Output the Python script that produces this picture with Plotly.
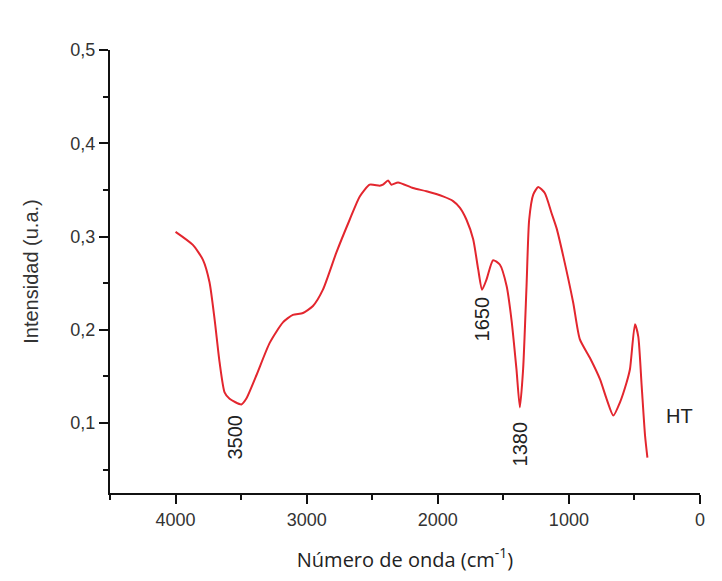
import plotly.graph_objects as go

# Wavenumber (cm^-1) and intensity (u.a.)
wavenumber = [4000, 3868, 3791, 3741, 3702, 3664, 3626, 3588, 3498, 3461, 3384, 3282,
              3181, 3105, 3028, 2952, 2876, 2773, 2672, 2595, 2519, 2443, 2418, 2379,
              2354, 2303, 2189, 2086, 1960, 1883, 1832, 1781, 1730, 1692, 1662, 1628,
              1578, 1527, 1475, 1438, 1400, 1374, 1349, 1323, 1303, 1272, 1234, 1184,
              1132, 1094, 1043, 967, 917, 840, 763, 712, 661, 611, 560, 534, 496, 471,
              445, 419, 401]
intensity = [0.305, 0.291, 0.275, 0.251, 0.211, 0.165, 0.133, 0.126, 0.120, 0.126, 0.151,
             0.186, 0.208, 0.216, 0.218, 0.2255, 0.243, 0.283, 0.318, 0.343, 0.3556,
             0.3545, 0.3556, 0.360, 0.3556, 0.358, 0.352, 0.3485, 0.343, 0.338, 0.331,
             0.318, 0.297, 0.265, 0.243, 0.254, 0.2746, 0.270, 0.247, 0.211, 0.158,
             0.1168, 0.158, 0.247, 0.318, 0.345, 0.353, 0.3467, 0.325, 0.309, 0.279,
             0.229, 0.190, 0.170, 0.147, 0.1257, 0.108, 0.122, 0.1435, 0.158, 0.206,
             0.193, 0.140, 0.0864, 0.063]

peak_labels = ["3500", "1650", "1380"]
peak_x = [3550, 1664, 1374]
peak_y = [0.085, 0.212, 0.078]
sample_label = "HT"
sample_x = 153
sample_y = 0.1075

x_tickvals = [4000, 3000, 2000, 1000, 0]
y_tickvals = [0.1, 0.2, 0.3, 0.4, 0.5]

fig = go.Figure()
fig.add_trace(go.Scatter(
    x=wavenumber, y=intensity, mode="lines",
    line=dict(color="#e3262e", width=2, shape="spline", smoothing=0.6),
    showlegend=False, hoverinfo="skip"))

for lab, px, py in zip(peak_labels, peak_x, peak_y):
    fig.add_annotation(x=px, y=py, text=lab, showarrow=False, textangle=-90,
                       font=dict(family="Liberation Sans, Arial", size=20, color="#222"),
                       xanchor="center", yanchor="middle")
fig.add_annotation(x=sample_x, y=sample_y, text=sample_label, showarrow=False,
                   font=dict(family="Liberation Sans, Arial", size=20, color="#222"),
                   xanchor="center", yanchor="middle")

axis_common = dict(showline=True, linecolor="#111", linewidth=2, ticks="outside",
                   ticklen=9, tickwidth=2, tickcolor="#111", showgrid=False,
                   zeroline=False, mirror=False,
                   tickfont=dict(family="Liberation Sans, Arial", size=18, color="#333"))

fig.update_layout(
    width=722, height=581,
    margin=dict(l=110, r=22, t=50, b=88),
    paper_bgcolor="white", plot_bgcolor="white",
    separators=",.",
    xaxis=dict(range=[4500, 0], tickvals=x_tickvals, ticktext=[str(v) for v in x_tickvals],
               minor=dict(dtick=500, tick0=0, ticks="outside", ticklen=5, tickwidth=2,
                          tickcolor="#111"),
               title=dict(text="Número de onda (cm<sup>-1</sup>)", standoff=24,
                          font=dict(family="Open Sans", size=20, color="#222")),
               automargin=False,
               **axis_common),
    yaxis=dict(range=[0.025, 0.5], tickvals=y_tickvals, tickformat=".1f",
               minor=dict(dtick=0.05, tick0=0, ticks="outside", ticklen=5, tickwidth=2,
                          tickcolor="#111"),
               title=dict(text="Intensidad (u.a.)", standoff=26,
                          font=dict(family="Liberation Sans, Arial", size=20, color="#333")),
               automargin=False,
               **axis_common),
)

fig.write_html("out.html")
